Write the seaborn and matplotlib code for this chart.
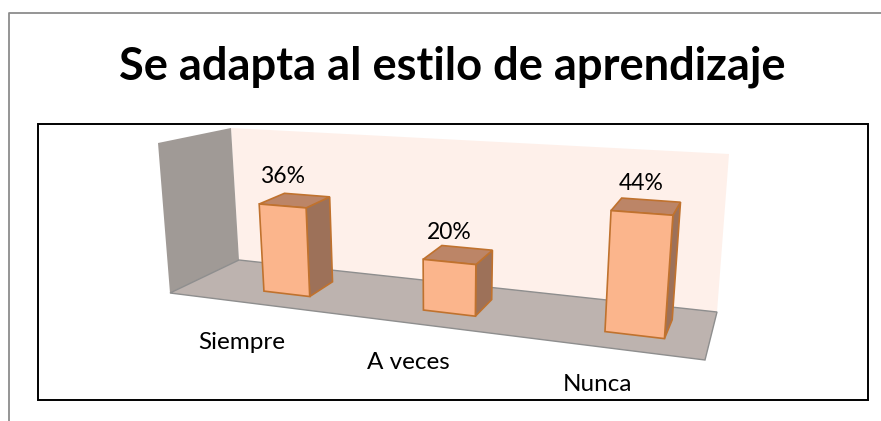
import numpy as np
import matplotlib
matplotlib.use("Agg")
import matplotlib.pyplot as plt
from matplotlib.patches import Polygon, Rectangle
from matplotlib.lines import Line2D
from matplotlib.transforms import Affine2D, Transform
import seaborn as sns

# ---- data ----
categories = ["Siempre", "A veces", "Nunca"]
values = [36, 20, 44]
value_labels = ["36%", "20%", "44%"]
title = "Se adapta al estilo de aprendizaje"

sns.set_theme(style="white")
plt.rcParams["font.family"] = ["Lato", "DejaVu Sans"]

W, H = 881, 421
fig = plt.figure(figsize=(W / 100, H / 100), dpi=100, facecolor="white")
ax = fig.add_axes([0, 0, 1, 1])

BAR_WIDTH = 0.3
sns.barplot(x=categories, y=values, ax=ax, width=BAR_WIDTH, color="#FBB58C",
            saturation=1, edgecolor="#C0722E", linewidth=1.2)
ax.axis("off")

# pixel coordinates (y down) to display
px = Affine2D().scale(1, -1).translate(0, H)

# Perspective camera: calibration of (x, value, depth) -> pixel
calib = [
    (-.15, 36, 0, 260, 204), (.15, 36, 0, 305, 207), (.15, 0, 0, 309, 296), (-.15, 0, 0, 265, 291),
    (-.15, 36, 1, 285, 193), (.15, 36, 1, 329, 197), (.15, 0, 1, 332, 282),
    (.85, 20, 0, 424, 259), (.85, 0, 0, 424, 311), (1.15, 20, 0, 474, 264), (1.15, 0, 0, 474, 316),
    (1.15, 20, 1, 492, 251), (1.15, 0, 1, 492, 301), (.85, 20, 1, 442, 246),
    (1.85, 44, 0, 612, 211), (1.85, 0, 0, 607, 332), (2.15, 44, 0, 672, 216), (2.15, 0, 0, 664, 339),
    (1.85, 44, 1, 624, 198), (2.15, 44, 1, 679, 202), (2.15, 0, 1, 672, 317),
]
rows = []
for x, y, z, u, v in calib:
    X = [x, y / 50, z, 1]
    u, v = u / 500, v / 500
    rows.append([*X, 0, 0, 0, 0, *[-u * c for c in X]])
    rows.append([0, 0, 0, 0, *X, *[-v * c for c in X]])
P = np.linalg.svd(np.array(rows))[2][-1].reshape(3, 4)


def project(x, y, z):
    x, y, z = np.broadcast_arrays(np.asarray(x, float), np.asarray(y, float), np.asarray(z, float))
    h = P @ np.stack([x, y / 50, z, np.ones_like(x)])
    return np.stack([h[0] / h[2], h[1] / h[2]], axis=-1) * 500


class FrontFace(Transform):
    """Maps bar coordinates on the front plane (depth 0) into the figure."""
    input_dims = 2
    output_dims = 2
    is_affine = False

    def transform_non_affine(self, values):
        v = np.asarray(values, float)
        return px.transform(project(v[:, 0], v[:, 1], 0 * v[:, 0]))


front = FrontFace()

# ---- room ----
room = [
    ([(231, 128), (729, 154), (717, 312), (239, 260)], "#FEF0EA", "none"),
    ([(158, 143), (231, 128), (239, 260), (170, 293)], "#A09A96", "none"),
    ([(170, 293), (239, 260), (717, 312), (705, 360)], "#BDB3AF", "#8E8E8E"),
]
for pts, fc, ec in room:
    ax.add_artist(Polygon(pts, closed=True, facecolor=fc, edgecolor=ec, linewidth=1.0,
                          transform=px, zorder=1, clip_on=False))

# ---- bars ----
EDGE = "#C0722E"
for bar, lab in zip(ax.containers[0].patches, value_labels):
    x0, x1, h = bar.get_x(), bar.get_x() + bar.get_width(), bar.get_height()
    bar.set_transform(front)
    bar.set_clip_on(False)
    bar.set_zorder(4)
    top = project([x0, x1, x1, x0], h, [0, 0, 1, 1])
    side = project([x1, x1, x1, x1], [h, 0, 0, h], [0, 0, 1, 1])
    ax.add_artist(Polygon(side, closed=True, facecolor="#9D7159", edgecolor=EDGE, linewidth=1.2,
                          transform=px, zorder=3, clip_on=False))
    ax.add_artist(Polygon(top, closed=True, facecolor="#BC8567", edgecolor=EDGE, linewidth=1.2,
                          transform=px, zorder=3, clip_on=False))
    c = project((x0 + x1) / 2, h, 0.0)
    ax.text(c[0], c[1] - 29.5, lab, transform=px, ha="center", va="center",
            fontsize=16.5, color="black", zorder=6)

for i, cat in enumerate(categories):
    c = project(i, 0, 0)
    ax.text(c[0] - 45 + 4 * i, c[1] + 49, cat, transform=px, ha="center", va="center",
            fontsize=17.5, color="black", zorder=6)

# ---- frames ----
ax.add_artist(Rectangle((38, 124), 830, 276, facecolor="none", edgecolor="black", linewidth=1.4,
                        transform=px, zorder=7, clip_on=False))
ax.add_artist(Line2D([9, 9, W], [H, 13, 13], color="#8C8C8C", linewidth=1.3,
                     transform=px, zorder=7, clip_on=False))

ax.text(452, 79, title, transform=px, ha="center", va="baseline", fontsize=32.6,
        fontweight="bold", color="black", zorder=7)

fig.savefig("out.png", dpi=100, facecolor="white")
